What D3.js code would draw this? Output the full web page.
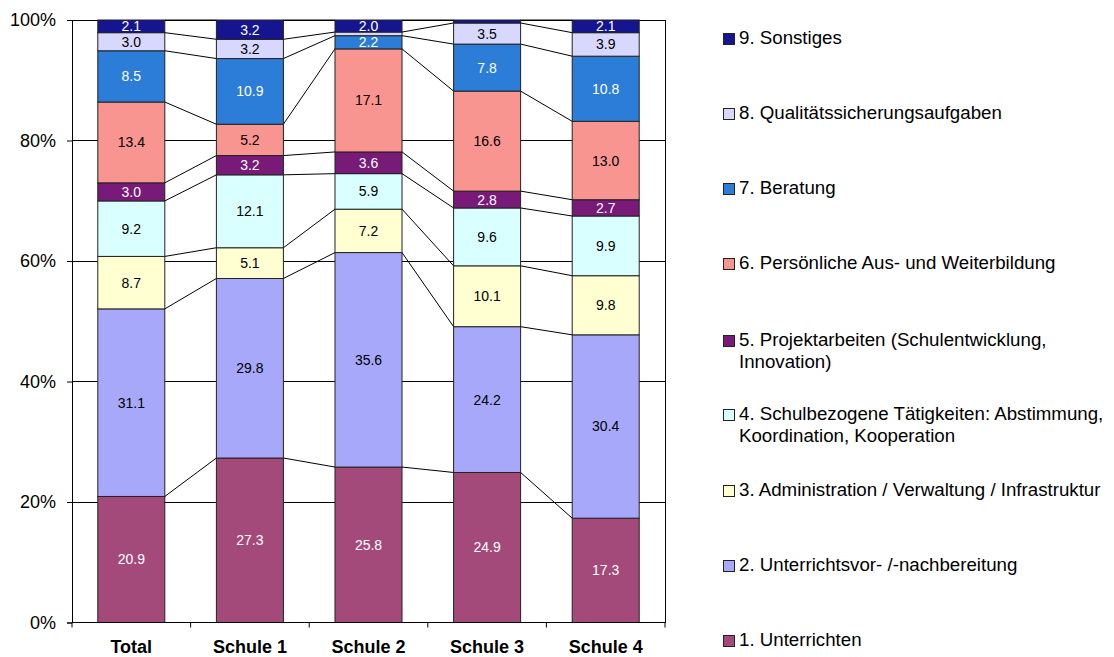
<!DOCTYPE html>
<html><head><meta charset="utf-8">
<script src="https://cdn.jsdelivr.net/npm/d3@7/dist/d3.min.js"></script>
<style>body{margin:0;background:#fff;font-family:"Liberation Sans",Arial,sans-serif;}</style>
</head><body><svg id="c" width="1114" height="657" style="font-family:'Liberation Sans',Arial,sans-serif"></svg>
<script>
const categories = ["Total","Schule 1","Schule 2","Schule 3","Schule 4"];
const seriesNames = ["1. Unterrichten","2. Unterrichtsvor- /-nachbereitung","3. Administration / Verwaltung / Infrastruktur","4. Schulbezogene Tätigkeiten: Abstimmung, Koordination, Kooperation","5. Projektarbeiten (Schulentwicklung, Innovation)","6. Persönliche Aus- und Weiterbildung","7. Beratung","8. Qualitätssicherungsaufgaben","9. Sonstiges"];
const legendLines = [["1. Unterrichten"],["2. Unterrichtsvor- /-nachbereitung"],["3. Administration / Verwaltung / Infrastruktur"],["4. Schulbezogene Tätigkeiten: Abstimmung,","Koordination, Kooperation"],["5. Projektarbeiten (Schulentwicklung,","Innovation)"],["6. Persönliche Aus- und Weiterbildung"],["7. Beratung"],["8. Qualitätssicherungsaufgaben"],["9. Sonstiges"]];
const s1 = [20.9,27.3,25.8,24.9,17.3];
const s2 = [31.1,29.8,35.6,24.2,30.4];
const s3 = [8.7,5.1,7.2,10.1,9.8];
const s4 = [9.2,12.1,5.9,9.6,9.9];
const s5 = [3.0,3.2,3.6,2.8,2.7];
const s6 = [13.4,5.2,17.1,16.6,13.0];
const s7 = [8.5,10.9,2.2,7.8,10.8];
const s8 = [3.0,3.2,0.6,3.5,3.9];
const s9 = [2.1,3.2,2.0,0.5,2.1];
const yTicks = [0,0.2,0.4,0.6,0.8,1.0];
const colors = ["#A34A7B","#A8A8FA","#FFFFD2","#DAFFFF","#781A78","#F99590","#2B7DD8","#D8D8FF","#151590"];
const labelColors = ["#fff","#000","#000","#000","#fff","#000","#fff","#000","#fff"];
const series = [s1,s2,s3,s4,s5,s6,s7,s8,s9];

const svg = d3.select("#c");
const L=72, R=665, T=20, B=622.5;
const x = d3.scaleBand().domain(categories).range([L,R]).paddingInner(0.435).paddingOuter(0.2175);
const y = d3.scaleLinear().domain([0,1]).range([B,T]);

const data = categories.map((c,i)=>{ const o={cat:c}; series.forEach((s,k)=>o["k"+k]=s[i]); return o;});
const keys = series.map((s,k)=>"k"+k);
const stack = d3.stack().keys(keys).offset(d3.stackOffsetExpand)(data);

// gridlines
svg.append("g").selectAll("line").data(yTicks.filter(d=>d>0)).join("line")
  .attr("x1",L).attr("x2",R).attr("y1",d=>y(d)).attr("y2",d=>y(d))
  .attr("stroke","#000").attr("stroke-width",1).attr("shape-rendering","crispEdges");
svg.append("line").attr("x1",R).attr("x2",R).attr("y1",T).attr("y2",B).attr("stroke","#000").attr("shape-rendering","crispEdges");

// series lines
const bw = x.bandwidth();
stack.forEach((layer,k)=>{
  for(let i=0;i<categories.length-1;i++){
    svg.append("line")
      .attr("x1",x(categories[i])+bw).attr("y1",y(layer[i][1]))
      .attr("x2",x(categories[i+1])).attr("y2",y(layer[i+1][1]))
      .attr("stroke","#000").attr("stroke-width",1);
  }
});

// bars
stack.forEach((layer,k)=>{
  svg.append("g").selectAll("rect").data(layer).join("rect")
    .attr("x",d=>x(d.data.cat)).attr("width",bw)
    .attr("y",d=>y(d[1])).attr("height",d=>y(d[0])-y(d[1]))
    .attr("fill",colors[k]).attr("stroke","#222").attr("stroke-width",1);
});
// labels
stack.forEach((layer,k)=>{
  svg.append("g").selectAll("text").data(layer.filter(d=>d.data["k"+k]>=1)).join("text")
    .attr("x",d=>x(d.data.cat)+bw/2).attr("y",d=>(y(d[0])+y(d[1]))/2+5)
    .attr("text-anchor","middle").attr("font-size",14).attr("fill",labelColors[k])
    .text(d=>d.data["k"+k].toFixed(1));
});

// axes
const yAxis = svg.append("g").attr("transform",`translate(${L},0)`)
  .call(d3.axisLeft(y).tickValues(yTicks).tickFormat(d3.format(".0%")).tickSize(5).tickPadding(11));
yAxis.select(".domain").attr("stroke","#000");
yAxis.selectAll("line").attr("stroke","#000");
yAxis.selectAll("text").attr("font-size",18).attr("font-family","Liberation Sans, Arial").attr("fill","#000");
const xg = svg.append("g").attr("transform",`translate(0,${B})`);
xg.append("line").attr("x1",L).attr("x2",R).attr("stroke","#000").attr("shape-rendering","crispEdges");
const bounds = categories.map(c=>x(c)-x.step()*0.2175).concat([R]);
xg.selectAll("line.t").data(bounds).join("line").attr("class","t")
  .attr("x1",d=>d).attr("x2",d=>d).attr("y1",0).attr("y2",5).attr("stroke","#000");
xg.selectAll("text").data(categories).join("text")
  .attr("x",d=>x(d)+bw/2).attr("y",30).attr("text-anchor","middle")
  .attr("font-size",18).attr("font-weight","bold").text(d=>d);

// legend
const legY = [646,571,496,420,346,269,194,119,44];
legendLines.forEach((lines,k)=>{
  const g = svg.append("g");
  g.append("rect").attr("x",723.5).attr("y",legY[k]-10.5).attr("width",11).attr("height",11)
    .attr("fill",colors[k]).attr("stroke","#222").attr("stroke-width",1);
  lines.forEach((t,j)=>{
    g.append("text").attr("x",739).attr("y",legY[k]+j*22).attr("font-size",18.7).attr("fill","#000").text(t);
  });
});
</script></body></html>
